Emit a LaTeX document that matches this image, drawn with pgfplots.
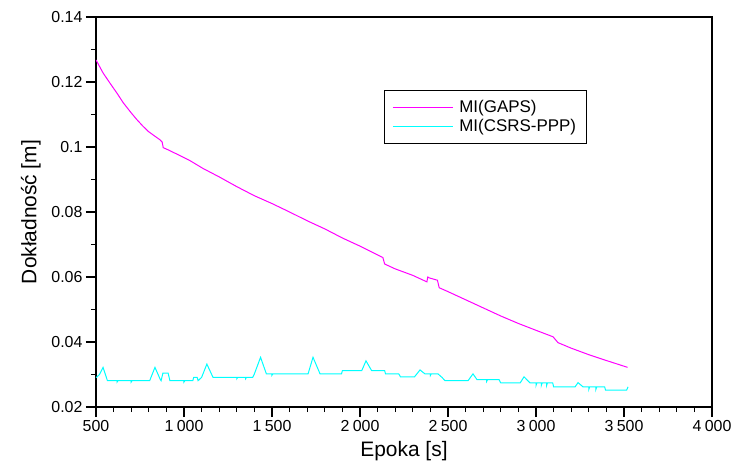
\documentclass[border=0pt]{standalone}
\usepackage{pgfplots}
\pgfplotsset{compat=1.18}
\usepackage{fontspec}
\setmainfont{Liberation Sans}
\definecolor{mag}{RGB}{255,0,255}
\definecolor{cya}{RGB}{0,255,255}
\pgfplotstableread{
x y
500 0.1268
540 0.1228
580 0.1196
620 0.1165
655 0.1136
700 0.1105
731 0.1085
765 0.1065
797 0.1048
830 0.1035
864 0.1022
876 0.1015
882 0.0998
911 0.0991
960 0.0978
1034 0.0958
1108 0.0934
1200 0.0908
1300 0.0878
1400 0.0850
1500 0.0826
1600 0.0800
1700 0.0773
1800 0.0748
1900 0.0720
2000 0.0695
2100 0.0668
2130 0.0660
2140 0.0640
2200 0.0625
2300 0.0605
2380 0.0585
2385 0.0600
2395 0.0597
2440 0.0590
2450 0.0567
2500 0.0555
2600 0.0530
2700 0.0505
2800 0.0480
2900 0.0457
3000 0.0436
3097 0.0416
3125 0.0398
3200 0.0381
3300 0.0361
3400 0.0343
3520 0.0322
}\gaps
\pgfplotstableread{
x y
500 0.0290
520 0.0300
540 0.0322
565 0.0281
620 0.0281
620 0.0277
625 0.0281
700 0.0281
700 0.0277
705 0.0281
805 0.0281
835 0.0322
865 0.0285
870 0.0281
880 0.0304
910 0.0304
920 0.0281
1000 0.0281
1000 0.0277
1005 0.0281
1050 0.0281
1055 0.0291
1075 0.0291
1080 0.0281
1100 0.0291
1130 0.0332
1165 0.0291
1300 0.0291
1300 0.0287
1305 0.0291
1350 0.0291
1350 0.0287
1355 0.0291
1390 0.0291
1400 0.0302
1435 0.0353
1468 0.0302
1500 0.0302
1500 0.0298
1505 0.0302
1705 0.0302
1733 0.0353
1773 0.0302
1895 0.0302
1900 0.0312
2010 0.0312
2034 0.0342
2066 0.0312
2140 0.0312
2145 0.0302
2220 0.0302
2230 0.0293
2310 0.0293
2341 0.0314
2369 0.0302
2400 0.0302
2400 0.0297
2405 0.0302
2443 0.0302
2466 0.0291
2483 0.0281
2614 0.0281
2642 0.0302
2665 0.0284
2720 0.0284
2720 0.0279
2725 0.0284
2790 0.0284
2800 0.0274
2910 0.0274
2932 0.0293
2966 0.0274
3000 0.0274
3000 0.0266
3005 0.0274
3030 0.0274
3030 0.0266
3035 0.0274
3060 0.0274
3060 0.0266
3065 0.0274
3095 0.0274
3100 0.0262
3222 0.0262
3239 0.0275
3267 0.0262
3300 0.0262
3300 0.0254
3305 0.0262
3340 0.0262
3340 0.0254
3345 0.0262
3390 0.0262
3395 0.0252
3515 0.0252
3523 0.0262
}\csrs
\begin{document}
\begin{tikzpicture}
\path[use as bounding box] (-96bp,-63bp) rectangle (640bp,407bp);
\begin{axis}[
  at={(0,0)}, anchor=south west,
  scale only axis, width=616bp, height=390bp,
  xmin=500, xmax=4000, ymin=0.02, ymax=0.14,
  xtick={500,1000,1500,2000,2500,3000,3500,4000},
  xticklabels={500,1\kern0.22em000,1\kern0.22em500,2\kern0.22em000,2\kern0.22em500,3\kern0.22em000,3\kern0.22em500,4\kern0.22em000},
  ytick={0.02,0.04,0.06,0.08,0.1,0.12,0.14},
  yticklabels={0.02,0.04,0.06,0.08,0.1,0.12,0.14},
  minor x tick num=4, minor y tick num=1,
  tick pos=left, tick align=outside,
  major tick length=10bp, minor tick length=5bp,
  every tick/.style={black, line width=1.2bp},
  axis line style={line width=1.3bp},
  tick label style={font=\fontsize{16}{19}\selectfont},
  label style={font=\fontsize{21}{25}\selectfont},
  xlabel={Epoka [s]}, ylabel={Dokładność [m]},
  xlabel style={yshift=-3bp},
  ylabel style={yshift=4bp},
  legend style={at={(rel axis cs:0.4675,0.8128)}, anchor=north west,
    font=\fontsize{17}{20}\selectfont, draw=black, line width=0.8bp,
    inner xsep=8bp, inner ysep=8bp, row sep=1bp},
  legend cell align=left,
  legend image code/.code={\draw[#1] (0bp,0bp) -- (60bp,0bp);},
  /tikz/every odd column/.append style={column sep=4bp},
]
\addplot[mag, line width=1bp] table[x=x,y=y] {\gaps};
\addlegendentry{MI(GAPS)}
\addplot[cya, line width=1bp] table[x=x,y=y] {\csrs};
\addlegendentry{MI(CSRS-PPP)}
\end{axis}
\end{tikzpicture}
\end{document}
